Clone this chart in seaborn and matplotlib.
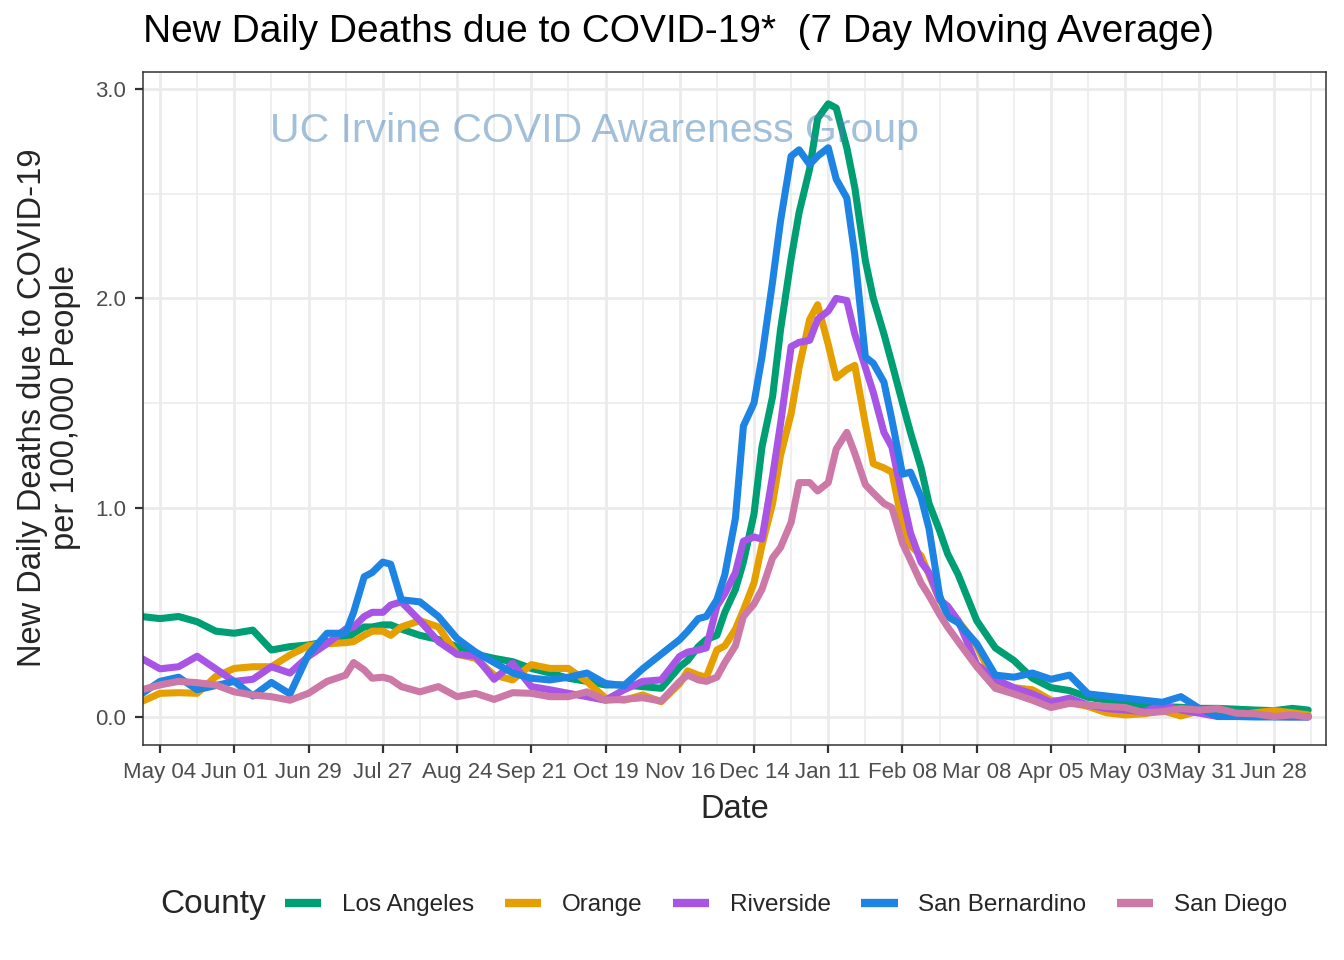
import numpy as np
import pandas as pd
import matplotlib
matplotlib.use("Agg")
import matplotlib.pyplot as plt
import matplotlib.dates as mdates
from matplotlib.ticker import FixedLocator
import seaborn as sns

# ---------------- data (readings of the 7-day average per 100k people) -------------
# weekly readings (Mondays) plus a last day
dates = list(pd.date_range("2020-04-27", periods=63, freq="7D")) + [pd.Timestamp("2021-07-11")]
# extra mid-week readings (Thursdays) where the curves move quickly
extra_dates = [pd.Timestamp(d) for d in [
    "2020-07-16", "2020-07-23", "2020-07-30",
    "2020-11-19", "2020-11-26", "2020-12-03", "2020-12-10", "2020-12-17", "2020-12-24",
    "2020-12-31", "2021-01-07", "2021-01-14", "2021-01-21", "2021-01-28", "2021-02-04",
    "2021-02-11", "2021-02-18", "2021-02-25"]]

counties = ["Los Angeles", "Orange", "Riverside", "San Bernardino", "San Diego"]

los_angeles = [0.48, 0.47, 0.48, 0.455, 0.41, 0.40, 0.415, 0.32, 0.336, 0.344, 0.36, 0.37, 0.43,
               0.44, 0.42, 0.39, 0.37, 0.336, 0.30, 0.28, 0.264, 0.232, 0.21, 0.185, 0.17, 0.153,
               0.153, 0.145, 0.137, 0.24, 0.336, 0.39, 0.61, 0.97,
               1.53, 2.19, 2.62, 2.93, 2.72, 2.18, 1.83, 1.50, 1.19, 0.89, 0.68,
               0.46, 0.33, 0.27, 0.185, 0.14, 0.126, 0.094, 0.08, 0.065, 0.057, 0.05, 0.046,
               0.041, 0.041, 0.037, 0.033, 0.03, 0.041, 0.033]
orange = [0.073, 0.113, 0.116, 0.113, 0.193, 0.232, 0.24, 0.24, 0.296, 0.34, 0.35, 0.355, 0.39,
          0.41, 0.43, 0.46, 0.43, 0.30, 0.28, 0.20, 0.177, 0.25, 0.232, 0.232, 0.169, 0.09,
          0.08, 0.105, 0.073, 0.16, 0.20, 0.32, 0.42, 0.64,
          1.02, 1.45, 1.90, 1.78, 1.66, 1.40, 1.19, 0.92, 0.77, 0.56, 0.46,
          0.34, 0.16, 0.14, 0.13, 0.08, 0.07, 0.05, 0.02, 0.01, 0.015, 0.03, 0.005,
          0.03, 0.03, 0.01, 0.02, 0.03, 0.02, 0.01]
riverside = [0.28, 0.23, 0.24, 0.29, 0.23, 0.17, 0.18, 0.24, 0.21, 0.29, 0.35, 0.42, 0.48,
             0.50, 0.55, 0.46, 0.36, 0.30, 0.29, 0.18, 0.256, 0.145, 0.13, 0.113, 0.097, 0.08,
             0.13, 0.17, 0.177, 0.29, 0.32, 0.53, 0.69, 0.86,
             1.15, 1.77, 1.80, 1.94, 1.99, 1.67, 1.36, 1.05, 0.74, 0.56, 0.46,
             0.25, 0.18, 0.14, 0.11, 0.07, 0.09, 0.057, 0.04, 0.033, 0.025, 0.057, 0.033,
             0.018, 0.002, 0.018, 0.01, 0.002, 0.0, 0.0]
san_bernardino = [0.11, 0.17, 0.19, 0.13, 0.15, 0.17, 0.10, 0.165, 0.11, 0.30, 0.40, 0.40, 0.67,
                  0.74, 0.56, 0.55, 0.48, 0.375, 0.31, 0.26, 0.21, 0.185, 0.177, 0.19, 0.21, 0.16,
                  0.15, 0.23, 0.30, 0.37, 0.47, 0.56, 0.95, 1.50,
                  2.08, 2.68, 2.64, 2.72, 2.48, 1.72, 1.60, 1.16, 1.05, 0.58, 0.45,
                  0.35, 0.20, 0.19, 0.21, 0.18, 0.20, 0.11, 0.10, 0.09, 0.08, 0.07, 0.097,
                  0.04, 0.002, 0.002, 0.0, 0.0, 0.0, 0.0]
san_diego = [0.13, 0.153, 0.17, 0.164, 0.153, 0.12, 0.105, 0.097, 0.08, 0.113, 0.17, 0.20, 0.225,
             0.19, 0.145, 0.12, 0.145, 0.097, 0.113, 0.084, 0.116, 0.113, 0.097, 0.097, 0.12, 0.08,
             0.084, 0.092, 0.076, 0.17, 0.177, 0.19, 0.34, 0.54,
             0.76, 0.93, 1.12, 1.12, 1.36, 1.11, 1.02, 0.83, 0.64, 0.49, 0.36,
             0.24, 0.137, 0.11, 0.08, 0.045, 0.065, 0.057, 0.05, 0.045, 0.02, 0.025, 0.04,
             0.033, 0.04, 0.018, 0.015, 0.002, 0.01, 0.0]

los_angeles_extra = [0.40, 0.43, 0.44, 0.27, 0.37, 0.50, 0.74, 1.29, 1.85, 2.41, 2.86, 2.91,
                     2.53, 2.00, 1.69, 1.36, 1.02, 0.78]
orange_extra = [0.36, 0.41, 0.39, 0.22, 0.19, 0.34, 0.51, 0.82, 1.25, 1.67, 1.97, 1.62,
                1.68, 1.21, 1.17, 0.82, 0.68, 0.50]
riverside_extra = [0.43, 0.50, 0.535, 0.31, 0.33, 0.59, 0.84, 0.85, 1.40, 1.79, 1.90, 2.00,
                   1.83, 1.55, 1.29, 0.88, 0.69, 0.53]
san_bernardino_extra = [0.50, 0.69, 0.73, 0.41, 0.48, 0.68, 1.39, 1.72, 2.37, 2.71, 2.68, 2.57,
                        2.21, 1.69, 1.42, 1.17, 0.90, 0.48]
san_diego_extra = [0.26, 0.185, 0.18, 0.20, 0.17, 0.26, 0.48, 0.61, 0.81, 1.12, 1.08, 1.28,
                   1.26, 1.07, 1.00, 0.75, 0.58, 0.43]

series = [los_angeles, orange, riverside, san_bernardino, san_diego]
series_extra = [los_angeles_extra, orange_extra, riverside_extra, san_bernardino_extra,
                san_diego_extra]
colors = ["#009E73", "#E69F00", "#A855E6", "#1E84E4", "#CC79A7"]

tick_dates = list(pd.date_range("2020-05-04", periods=16, freq="28D"))
y_ticks = [0.0, 1.0, 2.0, 3.0]

title = "New Daily Deaths due to COVID-19*  (7 Day Moving Average)"
ylabel = "New Daily Deaths due to COVID-19\nper 100,000 People"
xlabel = "Date"
watermark = "UC Irvine COVID Awareness Group"

# ---------------- long table ----------------
frames = []
for c, v, ve in zip(counties, series, series_extra):
    frames.append(pd.DataFrame({"Date": dates + extra_dates, "value": v + ve, "County": c}))
df = pd.concat(frames, ignore_index=True).sort_values(["County", "Date"])

sns.set_theme(style="white")
plt.rcParams["font.family"] = ["Liberation Sans", "DejaVu Sans"]

W, H = 1344, 960
fig = plt.figure(figsize=(W / 100, H / 100), dpi=100)
L, R, T, B = 143, 1326, 72, 745
ax = fig.add_axes([L / W, 1 - B / H, (R - L) / W, (B - T) / H])

sns.lineplot(data=df, x="Date", y="value", hue="County", hue_order=counties,
             palette=dict(zip(counties, colors)), linewidth=5.1, errorbar=None,
             ax=ax, solid_joinstyle="round")

handles, labels = ax.get_legend_handles_labels()
if ax.get_legend() is not None:
    ax.get_legend().remove()

# axes limits
ax.set_xlim(pd.Timestamp("2020-04-27 14:00"), pd.Timestamp("2021-07-17 17:00"))
ax.set_ylim(-0.134, 3.082)

ax.xaxis.set_major_locator(FixedLocator(mdates.date2num(tick_dates)))
ax.xaxis.set_major_formatter(mdates.DateFormatter("%b %d"))
minor_dates = [d + pd.Timedelta(days=14) for d in tick_dates] + [tick_dates[0] - pd.Timedelta(days=14)]
ax.xaxis.set_minor_locator(FixedLocator(mdates.date2num(minor_dates)))
ax.yaxis.set_major_locator(FixedLocator(y_ticks))
ax.set_yticklabels([f"{v:.1f}" for v in y_ticks])
ax.yaxis.set_minor_locator(FixedLocator([0.5, 1.5, 2.5]))

ax.grid(which="major", color="#EBEBEB", linewidth=2.0)
ax.grid(which="minor", color="#EBEBEB", linewidth=1.1)
ax.set_axisbelow(True)

ax.tick_params(axis="both", which="major", length=6, width=1.6, color="#333333",
               labelsize=16, labelcolor="#4D4D4D", pad=6)
ax.tick_params(axis="both", which="minor", length=0)
ax.tick_params(axis="x", which="major", bottom=True)
ax.tick_params(axis="y", which="major", left=True)
for s in ax.spines.values():
    s.set_color("#333333")
    s.set_linewidth(1.1)

ax.set_xlabel("")
ax.set_ylabel("")

ax.text(pd.Timestamp("2020-10-15"), 2.80, watermark, ha="center", va="center",
        fontsize=29.5, color="#4682B4", alpha=0.5, zorder=3)

fig.text(L / W, 1 - 32 / H, title, ha="left", va="center", fontsize=28, color="black")
fig.text(49 / W, 1 - 408 / H, ylabel, ha="center", va="center", rotation=90,
         fontsize=23.5, linespacing=1.1, multialignment="center")
fig.text((L + R) / 2 / W, 1 - 810 / H, xlabel, ha="center", va="center", fontsize=23.5)

fig.text(160 / W, 1 - 905 / H, "County", ha="left", va="center", fontsize=24)
leg = fig.legend(handles, labels, loc="center left", bbox_to_anchor=(285 / W, 1 - 905 / H),
                 ncol=5, frameon=False, fontsize=17.5, handlelength=1.5,
                 handletextpad=0.85, columnspacing=1.25, borderaxespad=0, borderpad=0)
for h in leg.get_lines():
    h.set_linewidth(6)
    h.set_solid_capstyle("butt")

fig.savefig("out.png", dpi=100)
